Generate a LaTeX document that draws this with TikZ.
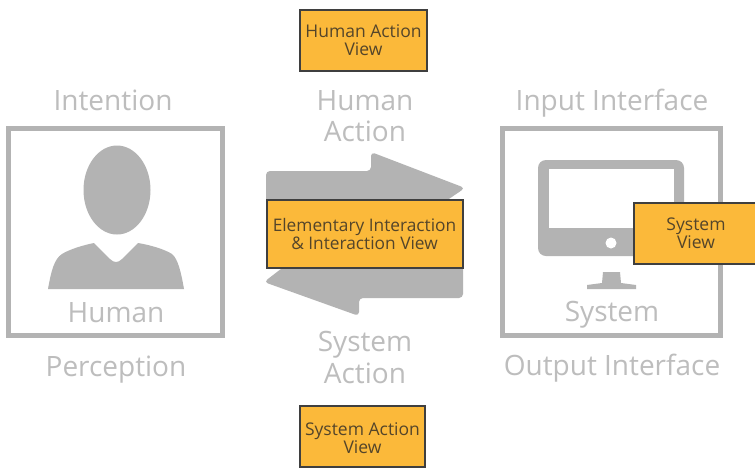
\documentclass[tikz,border=0pt]{standalone}
\usepackage{fontspec}
\setmainfont{Open Sans}
\definecolor{gr}{HTML}{B3B3B3}
\definecolor{grt}{HTML}{BDBDBD}
\definecolor{org}{HTML}{FBB93A}
\definecolor{dk}{HTML}{3F3F3F}
\definecolor{tx}{HTML}{54452A}
\tikzset{
  lab/.style={text=grt,font=\fontsize{28}{31}\selectfont,align=center,inner sep=0pt},
  sline/.style={lab,anchor=base},
  viewbox/.style={draw=dk,line width=2pt,fill=org,text=tx,font=\fontsize{17.5}{18}\selectfont,align=center,inner sep=0pt,minimum height=#1},
  framebox/.style={draw=gr,line width=5pt,fill=none,inner sep=0pt}
}
\begin{document}
\begin{tikzpicture}[x=1pt,y=-1pt]
\useasboundingbox (0,0) rectangle (755,467);
\fill[white] (0,0) rectangle (755,467);
% arrows
\fill[gr,rounded corners=4pt] (266,171) -- (371,171) -- (371,152) -- (465,188) -- (440,205) -- (266,205) -- cycle;
\fill[gr,rounded corners=4pt] (463,298) -- (359,298) -- (359,316) -- (264,282) -- (290,262) -- (463,262) -- cycle;
% frames
\node[framebox,minimum width=214pt,minimum height=207pt] (humanframe) at (115.5,232) {};
\node[framebox,minimum width=218pt,minimum height=207pt] (sysframe) at (611.5,232) {};
% person
\fill[gr] (117,190) ellipse [x radius=33.5,y radius=44.5];
\fill[gr] (48,289) .. controls (51,272) and (54,259) .. (62,254) .. controls (70,249) and (84,245) .. (94,243) -- (110,259) .. controls (114,263) and (118,263) .. (122,259) -- (138,243) .. controls (150,245) and (164,249) .. (172,254) .. controls (178,259) and (181,272) .. (184,289) -- cycle;
% monitor
\fill[gr,rounded corners=8pt] (538,160) rectangle (684,256);
\fill[white] (549,169) rectangle (674,228);
\fill[white] (611,243) circle (5.5);
\fill[gr] (603,272) -- (620,272) -- (621,283) -- (636,285) -- (636,289) -- (587,289) -- (587,285) -- (602,283) -- cycle;
% labels
\node[sline] (intention) at (113,110) {Intention};
\node[sline] (human) at (116,322) {Human};
\node[sline] (perception) at (116,376) {Perception};
\node[sline] (humanaction1) at (365,110) {Human};
\node[sline] (humanaction2) at (365,141) {Action};
\node[sline] (systemaction1) at (365,351) {System};
\node[sline] (systemaction2) at (365,383) {Action};
\node[sline] (input) at (612,110) {Input Interface};
\node[sline] (system) at (612,321) {System};
\node[sline] (output) at (612,375) {Output Interface};
% view boxes
\node[viewbox=61pt,minimum width=127pt] (hav) at (363.5,40) {Human Action\\View};
\node[viewbox=68pt,minimum width=196pt,font=\fontsize{17.3}{18}\selectfont] (eiv) at (364.5,233.5) {\rule{0pt}{15pt}Elementary Interaction\\\& Interaction View};
\node[viewbox=61pt,minimum width=125pt] (sav) at (362.5,436) {\rule{0pt}{17pt}System Action\\View};
\node[viewbox=61pt,minimum width=124pt] (sv) at (696,233) {System\\View};
\end{tikzpicture}
\end{document}
